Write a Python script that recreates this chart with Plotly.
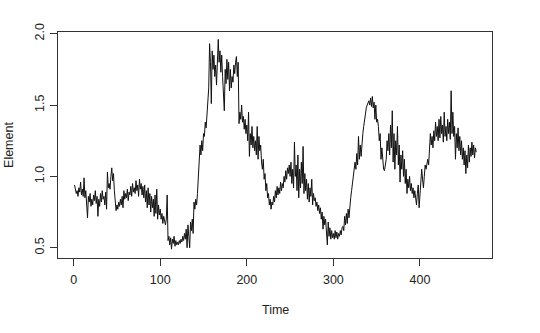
import plotly.graph_objects as go

element = [
    0.94, 0.91, 0.88, 0.90, 0.86, 0.92, 0.89, 0.96, 0.87, 0.91,
    0.86, 0.99, 0.85, 0.90, 0.80, 0.71, 0.86, 0.82, 0.88, 0.79,
    0.84, 0.80, 0.87, 0.83, 0.90, 0.81, 0.86, 0.72, 0.84, 0.79,
    0.88, 0.82, 0.90, 0.84, 0.86, 0.80, 0.89, 0.77, 1.03, 0.92,
    0.95, 0.91, 1.00, 1.06, 0.97, 1.02, 0.90, 0.85, 0.76, 0.80,
    0.77, 0.82, 0.79, 0.84, 0.80, 0.86, 0.78, 0.90, 0.84, 0.88,
    0.85, 0.91, 0.83, 0.89, 0.87, 0.93, 0.86, 0.95, 0.89, 0.92,
    0.88, 0.97, 0.90, 0.94, 0.86, 0.98, 0.91, 0.95, 0.87, 0.93,
    0.85, 0.94, 0.82, 0.90, 0.78, 0.92, 0.80, 0.88, 0.75, 0.86,
    0.78, 0.84, 0.72, 0.87, 0.74, 0.91, 0.70, 0.80, 0.73, 0.77,
    0.70, 0.74, 0.67, 0.72, 0.68, 0.66, 0.70, 0.87, 0.55, 0.58,
    0.52, 0.57, 0.49, 0.56, 0.53, 0.58, 0.51, 0.55, 0.52, 0.54,
    0.52, 0.55, 0.53, 0.56, 0.54, 0.58, 0.55, 0.60, 0.56, 0.63,
    0.50, 0.66, 0.58, 0.50, 0.68, 0.62, 0.70, 0.60, 0.82, 0.77,
    0.84, 0.80, 0.88, 1.00, 1.10, 1.22, 1.15, 1.25, 1.18, 1.30,
    1.28, 1.38, 1.34, 1.45, 1.55, 1.62, 1.93, 1.80, 1.51, 1.88,
    1.75, 1.85, 1.70, 1.78, 1.64, 1.90, 1.96, 1.80, 1.88, 1.73,
    1.85, 1.70, 1.60, 1.46, 1.75, 1.65, 1.82, 1.68, 1.80, 1.60,
    1.75, 1.62, 1.70, 1.66, 1.78, 1.72, 1.80, 1.84, 1.70, 1.80,
    1.37, 1.45, 1.40, 1.50, 1.38, 1.42, 1.33, 1.40, 1.30, 1.36,
    1.25, 1.45, 1.14, 1.30, 1.22, 1.35, 1.20, 1.28, 1.18, 1.25,
    1.15, 1.35, 1.12, 1.28, 1.18, 1.22, 1.10, 1.05, 1.12, 0.98,
    1.02, 0.90, 0.95, 0.85, 0.88, 0.80, 0.84, 0.77, 0.82, 0.80,
    0.86, 0.82, 0.90, 0.85, 0.93, 0.87, 0.92, 0.88, 0.96, 0.90,
    0.95, 0.92, 1.00, 0.96, 1.04, 0.98, 1.06, 1.02, 1.08, 1.00,
    1.10, 0.95, 1.05, 0.92, 1.24, 1.00, 1.08, 0.90, 1.15, 0.85,
    1.05, 0.92, 1.10, 0.95, 1.21, 0.88, 1.02, 0.90, 0.98, 0.84,
    0.95, 0.82, 0.92, 0.86, 0.98, 0.80, 0.88, 0.83, 0.85, 0.79,
    0.82, 0.76, 0.80, 0.74, 0.78, 0.70, 0.75, 0.63, 0.72, 0.66,
    0.70, 0.60, 0.52, 0.68, 0.58, 0.64, 0.56, 0.62, 0.57, 0.60,
    0.56, 0.62, 0.57, 0.61, 0.56, 0.60, 0.58, 0.62, 0.59, 0.64,
    0.65, 0.62, 0.72, 0.66, 0.74, 0.67, 0.77, 0.71, 0.80, 0.85,
    0.90, 0.95, 1.00, 1.04, 1.10, 1.05, 1.16, 1.08, 1.28, 1.12,
    1.22, 1.14, 1.27, 1.30, 1.35, 1.40, 1.45, 1.48, 1.50, 1.52,
    1.53, 1.50, 1.55, 1.49, 1.56, 1.48, 1.52, 1.40, 1.50, 1.38,
    1.40, 1.35, 1.25, 1.30, 1.12, 1.20, 1.08, 1.05, 1.04, 1.08,
    1.12, 1.25, 1.18, 1.30, 1.15, 1.36, 1.20, 1.46, 1.10, 1.30,
    1.05, 1.25, 1.15, 1.35, 1.08, 1.22, 0.96, 1.15, 1.05, 1.18,
    1.00, 1.12, 0.95, 1.05, 0.88, 0.98, 0.92, 1.00, 0.90, 0.95,
    0.88, 0.92, 0.85, 0.90, 0.82, 0.80, 0.88, 0.94, 0.78, 0.90,
    0.95, 1.05, 0.98, 0.92, 1.00, 1.08, 1.05, 1.10, 1.12, 1.08,
    1.18, 1.30, 1.22, 1.28, 1.20, 1.32, 1.25, 1.38, 1.28, 1.35,
    1.25, 1.40, 1.27, 1.42, 1.30, 1.36, 1.24, 1.45, 1.28, 1.35,
    1.25, 1.40, 1.30, 1.38, 1.26, 1.60, 1.30, 1.45, 1.28, 1.35,
    1.12, 1.30, 1.20, 1.34, 1.18, 1.28, 1.15, 1.25, 1.12, 1.20,
    1.08, 1.18, 1.02, 1.15, 1.06, 1.22, 1.10, 1.20, 1.14, 1.24,
    1.15, 1.22, 1.13, 1.20, 1.17,
]
time = list(range(1, len(element) + 1))

x_ticks = [0, 100, 200, 300, 400]
y_ticks = [0.5, 1.0, 1.5, 2.0]
y_tick_labels = ["0.5", "1.0", "1.5", "2.0"]

font = dict(family="Liberation Sans, Arial, sans-serif", size=12.5, color="#222222")

fig = go.Figure()
fig.add_trace(go.Scatter(x=time, y=element, mode="lines",
                         line=dict(color="#111111", width=1), showlegend=False))

axis_common = dict(showline=True, linecolor="#333333", linewidth=1, mirror=True,
                   ticks="outside", ticklen=7, tickcolor="#333333", tickwidth=1,
                   showgrid=False, zeroline=False, tickfont=font)

fig.update_xaxes(range=[-18.1, 483.2], tickvals=x_ticks, ticklabelstandoff=3,
                 **axis_common)
fig.update_yaxes(range=[0.428, 2.012], tickvals=y_ticks, ticktext=y_tick_labels,
                 tickangle=-90, ticklabelstandoff=1, **axis_common)

fig.add_annotation(text="Time", xref="paper", yref="paper", x=0.5, y=-0.23,
                   xanchor="center", yanchor="middle", showarrow=False, font=font)
fig.add_annotation(text="Element", xref="paper", yref="paper", x=-0.113, y=0.5,
                   textangle=-90, xanchor="center", yanchor="middle",
                   showarrow=False, font=font)

fig.update_layout(width=540, height=333, margin=dict(l=58, r=48, t=32, b=75),
                  plot_bgcolor="white", paper_bgcolor="white")

fig.write_html("out.html")
